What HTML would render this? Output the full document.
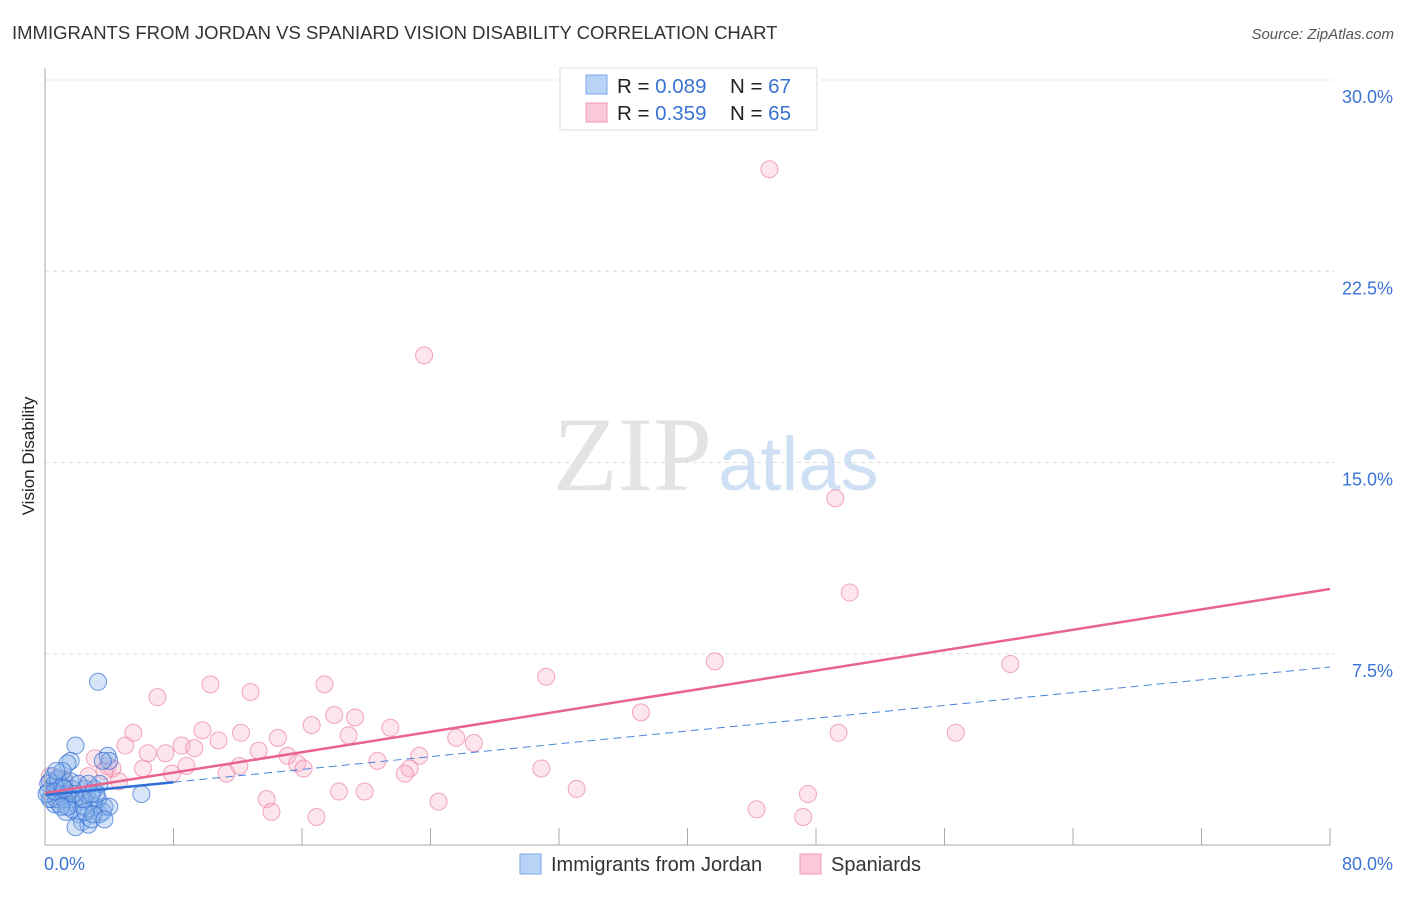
<!DOCTYPE html>
<html><head><meta charset="utf-8"><style>
body{margin:0;background:#fff;font-family:"Liberation Sans",sans-serif}
#wrap{position:relative;width:1406px;height:892px}
</style></head><body>
<div id="wrap">
<svg id="svg" width="1406" height="892" xmlns="http://www.w3.org/2000/svg">
<text x="12" y="39" font-size="18.5" fill="#333">IMMIGRANTS FROM JORDAN VS SPANIARD VISION DISABILITY CORRELATION CHART</text>
<text x="1394" y="39" font-size="15" fill="#555" font-style="italic" text-anchor="end">Source: ZipAtlas.com</text>
<text x="0" y="0" transform="translate(34,456) rotate(-90)" font-size="17" fill="#222" text-anchor="middle">Vision Disability</text>
<g id="grid"></g>
<text x="553" y="490" font-family="Liberation Serif" font-size="106" fill="#e3e3e3">ZIP</text>
<text x="718" y="490" font-size="76" fill="#cfe0f5">atlas</text>
<g id="pts"></g>
<g id="lines"></g>
<g id="ticks"></g>
<g>
<rect x="560" y="68" width="257" height="62" fill="#fff" stroke="#ddd"/>
<rect x="586" y="75" width="21" height="19" fill="#b9d3f7" stroke="#7aa7e6"/>
<rect x="586" y="103" width="21" height="19" fill="#fac8d8" stroke="#f09ab5"/>
<text x="617" y="93" font-size="20.5" fill="#222">R = <tspan fill="#3b73d4">0.089</tspan></text>
<text x="730" y="93" font-size="20.5" fill="#222">N = <tspan fill="#3b73d4">67</tspan></text>
<text x="617" y="120" font-size="20.5" fill="#222">R = <tspan fill="#3b73d4"> 0.359</tspan></text>
<text x="730" y="120" font-size="20.5" fill="#222">N = <tspan fill="#3b73d4">65</tspan></text>
</g>
<g>
<rect x="520" y="854" width="21" height="20" fill="#b9d3f7" stroke="#7aa7e6"/>
<text x="551" y="871" font-size="20" fill="#333">Immigrants from Jordan</text>
<rect x="800" y="854" width="21" height="20" fill="#fac8d8" stroke="#f09ab5"/>
<text x="831" y="871" font-size="20" fill="#333">Spaniards</text>
</g>
</svg>
</div>
<script>
const yTicks=[7.5,15,22.5,30];
const yTickLabels=["7.5%","15.0%","22.5%","30.0%"];
const xTickLabels=["0.0%","80.0%"];
const pinkX=[45.1,23.6,49.2,50.1,41.7,60.1,31.2,37.1,56.7,49.4,7.0,10.3,12.8,17.4,18.0,19.3,16.6,21.5,9.8,12.2,5.5,5.0,8.5,10.8,14.5,18.9,25.6,26.7,6.4,7.5,9.3,13.3,15.1,15.7,16.1,20.7,23.3,22.7,22.4,30.9,12.1,6.1,7.9,8.8,11.3,4.2,3.1,3.9,2.7,4.6,3.7,33.1,18.3,19.9,13.8,24.5,47.5,44.3,14.1,16.9,47.2,0.3,0.9,1.7,1.2];
const pinkY=[26.5,19.2,13.6,9.9,7.2,7.1,6.6,5.2,4.4,4.4,5.8,6.3,6.0,6.3,5.1,5.0,4.7,4.6,4.5,4.4,4.4,3.9,3.9,4.1,4.2,4.3,4.2,4.0,3.6,3.6,3.8,3.7,3.5,3.2,3.0,3.3,3.5,3.0,2.8,3.0,3.1,3.0,2.8,3.1,2.8,3.0,3.4,3.1,2.7,2.5,2.9,2.2,2.1,2.1,1.8,1.7,2.0,1.4,1.3,1.1,1.1,2.7,2.5,2.2,2.6];
const blueX=[3.3,1.9,1.6,1.4,3.9,4.0,3.6,6.0,0.3,0.6,0.2,0.4,0.8,1.1,1.2,1.6,1.9,2.2,2.5,2.8,3.1,3.4,3.7,2.1,2.3,2.7,2.9,1.9,0.9,1.3,1.7,0.6,0.2,0.5,0.8,1.1,1.4,1.7,2.4,3.3,3.6,4.0,2.6,0.7,1.2,1.6,1.1,0.7,0.3,0.1,3.1,3.4,3.2,2.5,3.0,3.7,2.1,1.4,1.8,2.7,0.6,1.0,2.4,2.9,1.2];
const blueY=[6.4,3.9,3.3,3.2,3.5,3.3,3.3,2.0,2.5,2.4,2.1,1.8,2.2,2.0,2.5,1.8,1.6,1.8,2.2,1.7,1.5,1.2,1.5,1.2,0.9,0.8,1.0,0.7,1.6,1.3,1.4,1.6,2.4,2.7,2.6,2.3,2.0,2.2,1.5,1.8,1.3,1.5,2.0,1.8,1.8,2.5,2.9,2.9,1.8,2.0,2.2,2.4,2.0,1.3,1.2,1.0,2.4,1.5,2.0,2.4,2.1,1.5,1.8,2.0,2.2];
const pinkTrend=[2.04,10.04];
const blueTrend=[1.96,6.98];
const NS="http://www.w3.org/2000/svg";
const X=v=>45+v*(1330-45)/80;
const Y=v=>845-v*(845-80)/30;
function mk(tag,attrs,parent){const e=document.createElementNS(NS,tag);for(const k in attrs)e.setAttribute(k,attrs[k]);parent.appendChild(e);return e;}
const grid=document.getElementById('grid'),ticks=document.getElementById('ticks'),pts=document.getElementById('pts'),lines=document.getElementById('lines');
yTicks.forEach((t,i)=>{
 const l=mk('line',{x1:45,x2:1335,y1:Y(t),y2:Y(t),stroke:'#ddd','stroke-dasharray':'4,4'},grid);
 
 
 const tx=mk('text',{x:1393,y:Y(t)+23,'font-size':18,fill:'#3b73d4','text-anchor':'end'},ticks);
 tx.textContent=yTickLabels[i];
 
 
});
const ax=mk('line',{x1:45,x2:45,y1:68,y2:845,stroke:'#aaa'},ticks);


const bx=mk('line',{x1:45,x2:1330,y1:845,y2:845,stroke:'#aaa'},ticks);


for(let v=8;v<=80;v+=8){
 const t=mk('line',{x1:X(v),x2:X(v),y1:828,y2:845,stroke:'#aaa'},ticks);
 
 
}
[[0,44,'start'],[80,1393,'end']].forEach((a,i)=>{
 const t=mk('text',{x:a[1],y:870,'font-size':18,fill:'#3b73d4','text-anchor':a[2]},ticks);
 t.textContent=xTickLabels[i];
 
 
});
pinkX.forEach((x,i)=>{
 const c=mk('circle',{cx:X(x),cy:Y(pinkY[i]),r:8.5,fill:'rgba(248,180,200,0.35)',stroke:'rgba(236,130,165,0.7)','stroke-width':1},pts);
 
 
});
blueX.forEach((x,i)=>{
 const c=mk('circle',{cx:X(x),cy:Y(blueY[i]),r:8.5,fill:'rgba(140,180,235,0.35)',stroke:'rgba(50,110,210,0.7)','stroke-width':1},pts);
 
 
});
const pl=mk('line',{x1:X(0),y1:Y(pinkTrend[0]),x2:X(80),y2:Y(pinkTrend[1]),stroke:'#e8638f','stroke-width':2.5},lines);


const bAt=v=>blueTrend[0]+(blueTrend[1]-blueTrend[0])*v/80;
const bs=mk('line',{x1:X(0),y1:Y(bAt(0)),x2:X(8),y2:Y(bAt(8)),stroke:'#2f6fd6','stroke-width':2.5},lines);


const bd=mk('line',{x1:X(8),y1:Y(bAt(8)),x2:X(80),y2:Y(bAt(80)),stroke:'#4a84dc','stroke-width':1,'stroke-dasharray':'8,5'},lines);


</script>
</body></html>
